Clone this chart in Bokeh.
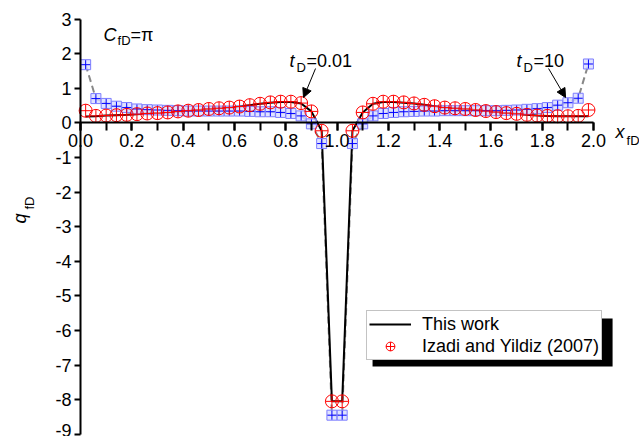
import math
from bokeh.plotting import figure
from bokeh.models import (Range1d, SingleIntervalTicker, PrintfTickFormatter, Label,
                          Arrow, NormalHead, BoxAnnotation, Legend, LegendItem)
from bokeh.embed import file_html
from bokeh.resources import INLINE

# ---------------- data ----------------
x_fD = [0.02, 0.06, 0.10, 0.14, 0.18, 0.22, 0.26, 0.30, 0.34, 0.38,
        0.42, 0.46, 0.50, 0.54, 0.58, 0.62, 0.66, 0.70, 0.74, 0.78,
        0.82, 0.86, 0.90, 0.94, 0.98, 1.02, 1.06, 1.10, 1.14, 1.18,
        1.22, 1.26, 1.30, 1.34, 1.38, 1.42, 1.46, 1.50, 1.54, 1.58,
        1.62, 1.66, 1.70, 1.74, 1.78, 1.82, 1.86, 1.90, 1.94, 1.98]

# Izadi and Yildiz (2007), tD = 0.01 (red circles)
izadi_t001 = [0.35, 0.20, 0.21, 0.22, 0.23, 0.25, 0.27, 0.28, 0.30, 0.33,
              0.35, 0.37, 0.40, 0.42, 0.44, 0.47, 0.51, 0.55, 0.59, 0.61,
              0.61, 0.57, 0.33, -0.23, -8.05, -8.05, -0.23, 0.30, 0.55, 0.61,
              0.61, 0.59, 0.56, 0.52, 0.48, 0.44, 0.42, 0.40, 0.37, 0.34,
              0.31, 0.28, 0.26, 0.23, 0.21, 0.20, 0.19, 0.19, 0.20, 0.37]

# Izadi and Yildiz (2007), tD = 10 (blue squares)
izadi_t10 = [1.68, 0.70, 0.56, 0.48, 0.44, 0.40, 0.38, 0.37, 0.36, 0.35,
             0.34, 0.34, 0.34, 0.34, 0.34, 0.34, 0.33, 0.32, 0.32, 0.30,
             0.27, 0.20, -0.03, -0.60, -8.45, -8.45, -0.60, -0.03, 0.20, 0.27,
             0.30, 0.32, 0.33, 0.34, 0.34, 0.35, 0.35, 0.35, 0.35, 0.35,
             0.35, 0.36, 0.37, 0.39, 0.41, 0.44, 0.51, 0.58, 0.71, 1.70]

# This work, tD = 0.01 (black solid line)
this_work_t001 = [0.18, 0.19, 0.21, 0.22, 0.23, 0.25, 0.27, 0.28, 0.30, 0.33,
                  0.35, 0.37, 0.40, 0.42, 0.44, 0.47, 0.51, 0.55, 0.58, 0.60,
                  0.60, 0.56, 0.33, -0.23, -8.05, -8.05, -0.23, 0.30, 0.55, 0.60,
                  0.60, 0.58, 0.56, 0.52, 0.48, 0.44, 0.42, 0.40, 0.37, 0.34,
                  0.31, 0.28, 0.26, 0.23, 0.21, 0.20, 0.19, 0.19, 0.19, 0.19]

# This work, tD = 10 (gray dashed line)
this_work_t10 = izadi_t10

FONT = "Liberation Sans"

# ---------------- figure ----------------
p = figure(width=639, height=436, output_backend="svg", toolbar_location=None,
           x_range=Range1d(-0.3119, 2.179), y_range=Range1d(-9.066, 3.535),
           min_border_left=0, min_border_right=0, min_border_top=0, min_border_bottom=0)
p.outline_line_color = None
p.xgrid.grid_line_color = None
p.ygrid.grid_line_color = None
p.background_fill_color = "white"
p.border_fill_color = "white"

# axes crossing at the origin
xa = p.xaxis[0]
xa.fixed_location = 0
xa.bounds = (0, 2)
xa.ticker = SingleIntervalTicker(interval=0.2, num_minor_ticks=2)
xa.formatter = PrintfTickFormatter(format="%.1f")
ya = p.yaxis[0]
ya.fixed_location = 0
ya.bounds = (-9, 3)
ya.ticker = SingleIntervalTicker(interval=1, num_minor_ticks=0)
ya.formatter = PrintfTickFormatter(format="%d")
for ax in (xa, ya):
    ax.axis_line_width = 2
    ax.axis_line_color = "black"
    ax.major_tick_line_width = 2
    ax.major_tick_line_color = "black"
    ax.minor_tick_line_width = 2
    ax.minor_tick_line_color = "black"
    ax.major_tick_in = 0
    ax.minor_tick_in = 0
    ax.major_label_text_font = FONT
    ax.major_label_text_font_size = "18px"
    ax.major_label_text_color = "black"
xa.major_tick_out = 8
xa.minor_tick_out = 8
xa.major_label_standoff = 3
ya.major_tick_out = 6
ya.major_label_standoff = 3

# ---------------- data glyphs ----------------
p.line(x_fD, this_work_t10, line_color="#888888", line_width=2, line_dash="7 4")
r_line = p.line(x_fD, this_work_t001, line_color="black", line_width=2)
p.scatter(x_fD, izadi_t10, marker="square", size=10, fill_color="#d8dcff",
          fill_alpha=0.8, line_color="#7d7dff", line_width=1)
p.scatter(x_fD, izadi_t10, marker="cross", size=9, line_color="#0000ff", line_width=1)
r_red = p.scatter(x_fD, izadi_t001, marker="circle_cross", size=13, fill_color=None,
                  line_color="#ff0000", line_width=1)

# ---------------- texts ----------------
def px2x(px):
    return (px - 80) / 256.5

def px2y(py):
    return (122.3 - py) / 34.6

def lab(text, px, py, size="18px", style="normal", angle=0):
    p.add_layout(Label(x=px2x(px), y=px2y(py), text=text, text_font=FONT,
                       text_font_size=size, text_font_style=style, text_color="black",
                       text_baseline="alphabetic", text_align="left", angle=angle))

# C_fD = pi
lab("C", 103, 34, style="italic")
lab("fD", 117, 40, size="13px")
lab("=π", 130, 34)
# tD = 0.01
lab("t", 289, 60, style="italic")
lab("D", 296, 67, size="13px")
lab("=0.01", 306, 60)
# tD = 10
lab("t", 516, 60, style="italic")
lab("D", 523, 67, size="13px")
lab("=10", 533, 60)
# x_fD
lab("x", 615, 131, style="italic")
lab("fD", 626, 140, size="13px")
# q_fD (rotated)
lab("q", 19, 223, style="italic", angle=math.pi / 2)
lab("fD", 29, 209, size="13px", angle=math.pi / 2)

# arrows
for (sx, sy, ex, ey) in [(315, 68, 303, 97), (548, 68, 565, 97)]:
    p.add_layout(Arrow(x_start=px2x(sx), y_start=px2y(sy), x_end=px2x(ex), y_end=px2y(ey),
                       line_color="black", line_width=1,
                       end=NormalHead(size=9, fill_color="black", line_color="black")))

# legend shadow
p.add_layout(BoxAnnotation(left=px2x(372), right=px2x(612), top=px2y(318), bottom=px2y(366),
                           fill_color="black", fill_alpha=1.0, line_color=None))

legend = Legend(items=[LegendItem(label="This work", renderers=[r_line]),
                       LegendItem(label="Izadi and Yildiz (2007)", renderers=[r_red])],
                location=(366, 76), margin=0, padding=2, spacing=0,
                label_text_font=FONT, label_text_font_size="18px", label_text_color="black",
                label_height=22, glyph_height=22, glyph_width=42, label_standoff=11,
                border_line_color="#888888", border_line_width=1,
                background_fill_color="white", background_fill_alpha=1.0)
p.add_layout(legend, "center")

open("out.html", "w").write(file_html(p, INLINE))
